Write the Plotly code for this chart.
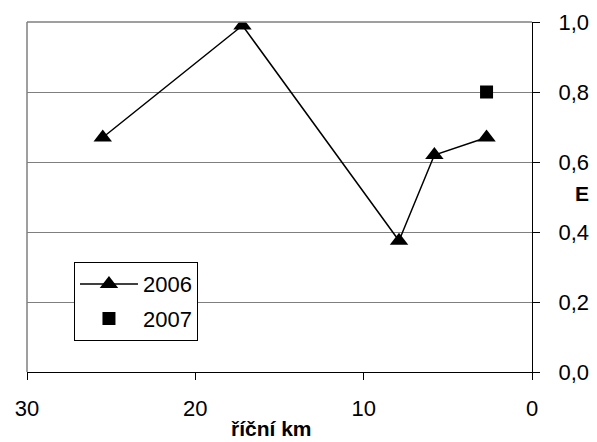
import plotly.graph_objects as go

# River kilometre positions and E values
km_2006 = [25.5, 17.2, 7.9, 5.8, 2.7]
e_2006 = [0.67, 0.99, 0.375, 0.62, 0.67]
km_2007 = [2.7]
e_2007 = [0.80]

x_ticks = [30, 20, 10, 0]
y_ticks = [0.0, 0.2, 0.4, 0.6, 0.8, 1.0]

FONT = "Liberation Sans, Arial, sans-serif"

fig = go.Figure()
fig.add_trace(go.Scatter(
    x=km_2006, y=e_2006, name="2006", mode="lines+markers",
    line=dict(color="black", width=1.5),
    marker=dict(symbol="triangle-up", size=16, color="black"),
    legendgroup="a",
))
fig.add_trace(go.Scatter(
    x=km_2007, y=e_2007, name="2007", mode="markers",
    marker=dict(symbol="square", size=13, color="black"),
    legendgroup="b",
))

fig.update_layout(
    width=597, height=442,
    margin=dict(l=27, r=65, t=22, b=70, autoexpand=False),
    plot_bgcolor="white", paper_bgcolor="white",
    separators=", ",
    font=dict(family=FONT, size=22, color="black"),
    showlegend=True,
    legend=dict(
        x=0.093, y=0.314, xanchor="left", yanchor="top",
        bordercolor="black", borderwidth=1, bgcolor="white",
        font=dict(size=22), itemwidth=58,
        tracegroupgap=3, traceorder="grouped",
    ),
    xaxis=dict(
        range=[30, 0], tickvals=x_ticks, showgrid=False, zeroline=False,
        showline=True, linecolor="black", linewidth=1,
        ticks="outside", ticklen=7, tickcolor="black",
        ticklabelstandoff=10, automargin=False,
    ),
    yaxis=dict(
        range=[0, 1], tickvals=y_ticks, tickformat=".1f", side="right",
        showgrid=True, gridcolor="#7f7f7f", gridwidth=1, zeroline=False,
        showline=True, linecolor="black", linewidth=1,
        ticks="outside", ticklen=7, tickcolor="black",
        ticklabelstandoff=14, automargin=False,
    ),
    annotations=[
        dict(text="<b>E</b>", xref="paper", yref="paper", x=1.099, y=0.509,
             showarrow=False, font=dict(size=21), xanchor="center", yanchor="middle"),
        dict(text="<b>říční km</b>", xref="paper", yref="paper", x=0.484, y=-0.162,
             showarrow=False, font=dict(size=21), xanchor="center", yanchor="middle"),
    ],
    shapes=[
        # grey frame on the left and top edges of the plot area
        dict(type="line", xref="paper", yref="paper", x0=0, y0=0, x1=0, y1=1,
             line=dict(color="#7f7f7f", width=1.5)),
        dict(type="line", xref="paper", yref="paper", x0=0, y0=1, x1=1, y1=1,
             line=dict(color="#7f7f7f", width=1.5)),
    ],
)

fig.write_html("out.html")
